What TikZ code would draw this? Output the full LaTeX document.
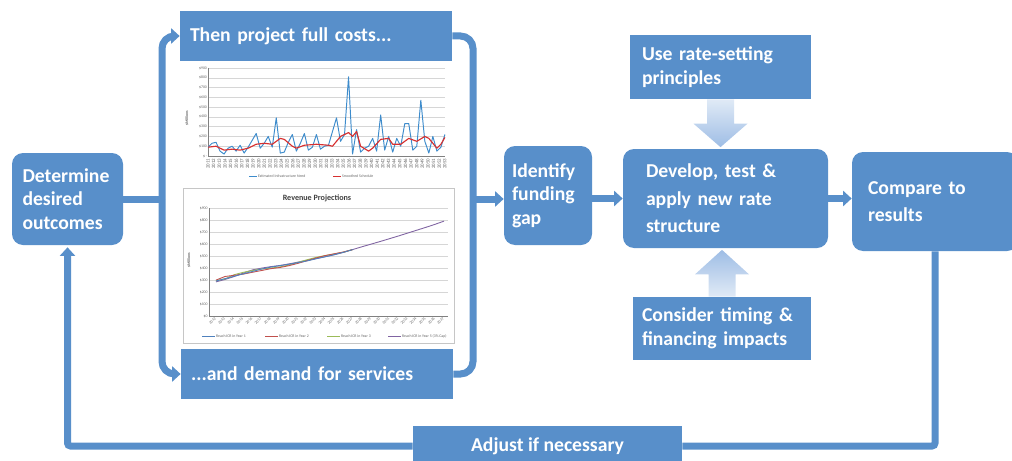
\documentclass[tikz,border=0pt]{standalone}
\usepackage{fontspec}
\setmainfont{Carlito}
\usetikzlibrary{arrows.meta, positioning, calc}

\definecolor{boxblue}{RGB}{88,143,202}
\definecolor{arrlight}{RGB}{224,234,246}
\definecolor{arrdark}{RGB}{158,189,229}
\definecolor{needblue}{RGB}{62,140,204}
\definecolor{smoothred}{RGB}{214,48,48}
\definecolor{gridgray}{RGB}{214,214,214}
\definecolor{revblue}{RGB}{79,129,189}
\definecolor{revred}{RGB}{192,80,77}
\definecolor{revgreen}{RGB}{155,187,89}
\definecolor{revpurple}{RGB}{128,100,162}

\begin{document}
\begin{tikzpicture}[
    stepbox/.style={rectangle, rounded corners=0.22cm, fill=boxblue, text=white, align=left,
      font=\bfseries\fontsize{11.2}{13.4}\selectfont},
    tagbox/.style={rectangle, fill=boxblue, text=white, align=left,
      font=\bfseries\fontsize{11.2}{13.4}\selectfont},
    wire/.style={draw=boxblue, line width=0.14cm},
    flow/.style={wire, -{Triangle[width=0.3cm, length=0.17cm]}},
    ticklbl/.style={font=\fontsize{2.2}{2.4}\selectfont, text=black!60, inner sep=0.4pt},
    legline/.style={line width=0.5pt},
  ]
  \useasboundingbox (0,0) rectangle (20.24,9.2);
  \clip (0,0) rectangle (20.24,9.2);

  % main steps
  \node[stepbox, text width=1.8cm, inner xsep=0.21cm, minimum height=1.84cm] (goals) at (1.35,5.22)
    {Determine\\desired\\outcomes};
  \node[tagbox, text width=5.04cm, inner xsep=0.2cm, minimum height=1.0cm] (costs) at (6.32,8.48)
    {Then project full costs...};
  \node[tagbox, text width=5.04cm, inner xsep=0.2cm, minimum height=1.0cm] (demand) at (6.34,1.72)
    {...and demand for services};
  \node[stepbox, text width=1.44cm, inner xsep=0.16cm, minimum height=1.98cm] (gap) at (10.96,5.29)
    {Identify\\funding\\gap};
  \node[stepbox, text width=3.18cm, inner xsep=0.46cm, minimum height=1.98cm,
    font=\bfseries\fontsize{11.2}{15.6}\selectfont] (develop) at (14.51,5.23)
    {Develop, test \&\\apply new rate\\structure};
  \node[stepbox, text width=2.68cm, inner xsep=0.32cm, minimum height=1.98cm,
    font=\bfseries\fontsize{11.2}{15.4}\selectfont] (compare) at (18.70,5.17)
    {Compare to\\results};
  \node[tagbox, text width=3.14cm, inner xsep=0.24cm, minimum height=1.28cm] (principles) at (14.41,7.86)
    {Use rate-setting\\principles};
  \node[tagbox, text width=3.2cm, inner xsep=0.18cm, minimum height=1.26cm] (timing) at (14.44,2.63)
    {Consider timing \&\\financing impacts};
  \node[tagbox, align=center, minimum width=5.38cm, minimum height=0.8cm] (adjust) at (10.95,0.28)
    {Adjust if necessary};

  % cost chart
  \begin{scope}[shift={(4.16,6.08)}, x=0.0803cm, y=0.1956cm]
    \foreach \v in {1,...,9}
      \draw[gridgray, line width=0.25pt] (0,\v) -- (59,\v);
    \draw[gray, line width=0.3pt] (0,9) -- (0,0) -- (59,0);
    \foreach \v in {1,...,9}
      \node[ticklbl, anchor=east] (cy\v) at (0,\v) {\$\v00};
    \node[ticklbl, anchor=east] (cy0) at (0,0) {\$\,-};
    \foreach \i in {0,...,42} {
      \pgfmathtruncatemacro\yr{2011+\i}
      \node[ticklbl, font=\fontsize{2.8}{3}\selectfont, rotate=90, anchor=east] (cx\i) at (\i*59/42,-0.15) {\yr};
    }
    \draw[needblue, line width=0.55pt, line join=round] plot coordinates {
      (0,0.9) (1,1.3) (2,1.4) (3,0.5) (4,0.2) (5,0.8) (6,1.0) (7,0.5) (8,1.1) (9,0.3)
      (10,0.9) (11,1.6) (12,2.3) (13,0.8) (14,1.3) (15,2.0) (16,0.9) (17,3.9) (18,0.3) (19,0.4)
      (20,1.4) (21,2.2) (22,0.5) (23,1.3) (24,2.3) (25,0.6) (26,0.9) (27,2.2) (28,0.7) (29,1.0)
      (30,1.1) (31,2.5) (32,3.9) (33,1.5) (34,2.2) (35,8.1) (36,0.2) (37,2.7) (38,0.4) (39,0.8)
      (40,1.0) (41,1.8) (42,0.5) (43,4.2) (44,0.6) (45,2.0) (46,0.4) (47,1.8) (48,1.0) (49,3.3)
      (50,3.3) (51,0.6) (52,1.0) (53,5.7) (54,1.5) (55,0.3) (56,2.0) (57,0.5) (58,0.9) (59,2.2)};
    \draw[smoothred, line width=0.65pt, line join=round] plot coordinates {
      (0,0.9) (2,1.0) (4,0.6) (6,0.7) (8,0.6) (10,0.8) (12,1.2) (14,1.3) (16,1.2) (18,1.8)
      (19,1.7) (21,1.0) (22,0.8) (24,1.1) (27,1.2) (30,1.1) (31,1.0) (33,2.0) (35,2.4) (36,2.0)
      (37,2.5) (38,1.0) (40,0.5) (41,0.8) (43,1.7) (45,1.8) (46,1.2) (48,1.2) (50,1.8) (52,1.5)
      (54,2.0) (55,1.8) (57,0.8) (58,1.2) (59,1.9)};
  \end{scope}
  \node[ticklbl, rotate=90, font=\bfseries\fontsize{2.2}{2.4}\selectfont] (cunit) at (3.74,6.84) {\$Millions};
  \draw[needblue, legline] (4.98,5.68) -- (5.14,5.68);
  \node[ticklbl, anchor=west] (cleg1) at (5.14,5.68) {Estimated Infrastructure Need};
  \draw[smoothred, legline] (6.66,5.68) -- (6.82,5.68);
  \node[ticklbl, anchor=west] (cleg2) at (6.82,5.68) {Smoothed Schedule};

  % revenue chart
  \draw[gray!45, line width=0.4pt, fill=white] (3.66,2.34) rectangle (9.08,5.44);
  \node[font=\bfseries\fontsize{4.6}{5}\selectfont, text=black!75] (revtitle) at (6.34,5.24) {Revenue Projections};
  \begin{scope}[shift={(4.32,2.88)}, x=0.1824cm, y=0.0024cm]
    \foreach \v in {100,200,...,900}
      \draw[gridgray, line width=0.25pt] (-0.77,\v) -- (25.4,\v);
    \draw[gray, line width=0.3pt] (-0.77,900) -- (-0.77,0) -- (25.4,0);
    \foreach \v in {0,100,...,900}
      \node[ticklbl, anchor=east] (ry\v) at (-0.8,\v) {\$\v};
    \foreach \i in {0,...,25} {
      \pgfmathtruncatemacro\yr{2012+\i}
      \node[ticklbl, rotate=45, anchor=east] (rx\i) at (\i,-12) {\yr};
    }
    \draw[revpurple, line width=0.5pt] plot coordinates {
      (0,285) (1,305) (2,330) (3,358) (4,385) (5,400) (6,412) (7,422) (8,435) (9,450) (10,465)
      (11,480) (12,495) (13,512) (14,532) (15,555) (16,578) (17,600) (18,622) (19,645) (20,668)
      (21,692) (22,716) (23,740) (24,765) (25,792)};
    \draw[revgreen, line width=0.5pt] plot coordinates {
      (0,295) (1,310) (2,345) (3,365) (4,380) (5,392) (6,400) (7,410) (8,425) (9,448) (10,470)
      (11,490) (12,505) (13,518) (14,533) (15,555)};
    \draw[revred, line width=0.5pt] plot coordinates {
      (0,300) (1,330) (2,340) (3,350) (4,365) (5,380) (6,395) (7,405) (8,420) (9,440) (10,462)
      (11,485) (12,505) (13,520) (14,535) (15,555)};
    \draw[revblue, line width=0.5pt] plot coordinates {
      (0,292) (1,312) (2,332) (3,352) (4,372) (5,392) (6,408) (7,420) (8,432) (9,446) (10,460)
      (11,478) (12,495) (13,513) (14,532) (15,555)};
  \end{scope}
  \node[ticklbl, rotate=90, font=\bfseries\fontsize{2.2}{2.4}\selectfont] (runit) at (3.78,4.0) {\$Millions};
  \draw[revblue, legline] (4.04,2.48) -- (4.30,2.48);
  \node[ticklbl, anchor=west] (rleg1) at (4.30,2.48) {Reach ICR in Year 1};
  \draw[revred, legline] (5.30,2.48) -- (5.56,2.48);
  \node[ticklbl, anchor=west] (rleg2) at (5.56,2.48) {Reach ICR in Year 2};
  \draw[revgreen, legline] (6.54,2.48) -- (6.80,2.48);
  \node[ticklbl, anchor=west] (rleg3) at (6.80,2.48) {Reach ICR in Year 3};
  \draw[revpurple, legline] (7.76,2.48) -- (8.02,2.48);
  \node[ticklbl, anchor=west] (rleg4) at (8.02,2.48) {Reach ICR in Year 5 (3\% Cap)};

  % split and merge around the two projections
  \coordinate (lbar) at (3.24,0);
  \coordinate (rbar) at (9.46,0);
  \draw[wire] (goals.east) -- (goals.east -| lbar);
  \draw[flow, rounded corners=0.25cm] (goals.east -| lbar) |- (costs.west);
  \draw[flow, rounded corners=0.25cm] (goals.east -| lbar) |- (demand.west);
  \draw[wire, rounded corners=0.25cm] (costs.east) -| (rbar |- demand.east) -- (demand.east);
  \draw[flow] (rbar |- goals.east) -- (goals.east -| gap.west);
  \draw[flow] (gap.east |- develop.west) -- (develop.west);
  \draw[flow] (develop.east) -- (develop.east -| compare.west);

  % feedback loop
  \draw[wire, rounded corners=0.06cm] (compare.south) |- (adjust.east);
  \draw[flow, rounded corners=0.06cm, shorten >=0.04cm] (adjust.west) -| (goals.south);

  % block arrows into the rate structure
  \coordinate (ratetip) at (principles.south |- develop.north);
  \shade[top color=arrlight, bottom color=arrdark]
    ($(principles.south)+(-0.27,0)$) -- ($(ratetip)+(-0.27,0.5)$) -- ($(ratetip)+(-0.54,0.5)$)
    -- ($(ratetip)+(0,0.03)$) -- ($(ratetip)+(0.54,0.5)$) -- ($(ratetip)+(0.27,0.5)$)
    -- ($(principles.south)+(0.27,0)$) -- cycle;
  \coordinate (timetip) at (timing.north |- develop.south);
  \shade[top color=arrdark, bottom color=arrlight]
    ($(timing.north)+(-0.27,0)$) -- ($(timetip)+(-0.27,-0.52)$) -- ($(timetip)+(-0.54,-0.52)$)
    -- ($(timetip)+(0,-0.03)$) -- ($(timetip)+(0.54,-0.52)$) -- ($(timetip)+(0.27,-0.52)$)
    -- ($(timing.north)+(0.27,0)$) -- cycle;
\end{tikzpicture}
\end{document}
